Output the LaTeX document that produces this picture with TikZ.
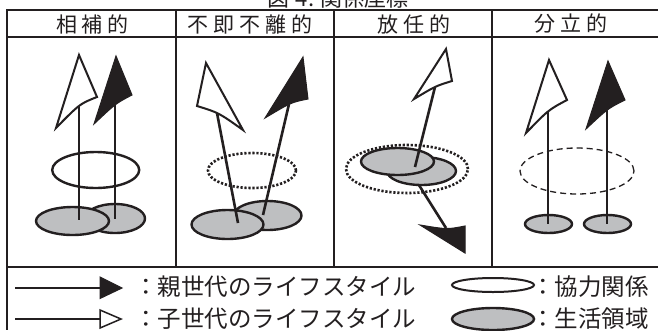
\documentclass[tikz,border=0pt]{standalone}
\usepackage{fontspec}
\newfontfamily\jp{Noto Sans CJK JP}
\definecolor{ink}{RGB}{35,31,32}
\definecolor{lgray}{RGB}{190,191,193}
\begin{document}
\begin{tikzpicture}[x=1pt,y=-1pt,
  frameline/.style={draw=ink,line width=1.5pt},
  shaft/.style={draw=ink,line width=2.6pt},
  whitehead/.style={draw=ink,fill=white,line width=2pt,line join=miter},
  blackhead/.style={draw=ink,fill=ink,line width=1pt,line join=miter},
  lifezone/.style={draw=ink,fill=lgray,line width=2.4pt},
  coop/.style={draw=ink,line width=2.4pt},
  coopdot/.style={draw=ink,line width=2.6pt,dash pattern=on 2.2pt off 1.8pt},
  coopdash/.style={draw=ink,line width=1.3pt,dash pattern=on 6pt off 4pt},
  ttl/.style={font=\jp\fontsize{22pt}{22pt}\selectfont,text=ink,inner sep=0pt,anchor=base},
  hdr/.style={font=\jp\fontsize{21}{21}\selectfont,text=ink,inner sep=0pt},
  lgd/.style={font=\jp\fontsize{23.5}{23.5}\selectfont,text=ink,inner sep=0pt,anchor=west},
]
\useasboundingbox (0,0) rectangle (658,330);
\fill[white] (0,0) rectangle (658,330);

% title (clipped at top, as in the reference)
\node[ttl] (title) at (338,6) {図\kern6pt 4.\kern6pt 関係座標};

% frame
\draw[ink,line width=1.3pt] (7,10) -- (658,10);
\draw[ink,line width=2pt] (7,37) -- (658,37);
\draw[ink,line width=2pt] (7,267) -- (658,267);
\draw[frameline] (7,9.4) -- (7,330);
\draw[frameline] (176,10) -- (176,267);
\draw[frameline] (334,10) -- (334,267);
\draw[frameline] (492,10) -- (492,267);

% headers
\node[hdr] (h1) at (92.5,24) {相\kern5pt 補\kern5pt 的};
\node[hdr] (h2) at (250,24) {不\kern5pt 即\kern5pt 不\kern5pt 離\kern5pt 的};
\node[hdr] (h3) at (414,24) {放\kern5pt 任\kern5pt 的};
\node[hdr] (h4) at (570.5,24) {分\kern5pt 立\kern5pt 的};

% panel 1
\path[lifezone] (115,218.5) ellipse [x radius=30pt,y radius=14.5pt];
\path[lifezone] (72.5,221) ellipse [x radius=36.5pt,y radius=14pt];
\path[coop] (95.7,170) ellipse [x radius=43.5pt,y radius=18pt];
\draw[shaft] (79,104) -- (79,220);
\draw[shaft] (115,103) -- (115,219);
\path[whitehead] (79,55) -- (97,97) .. controls (79.8,103.8) .. (56,128) -- cycle;
\path[blackhead] (116,56) -- (132,95) .. controls (115.7,103.5) .. (94,124) -- cycle;

% panel 2
\path[lifezone] (267.5,215.5) ellipse [x radius=34pt,y radius=14.5pt];
\path[lifezone] (227.5,224.5) ellipse [x radius=36pt,y radius=14.5pt];
\path[coopdot] (252,170.5) ellipse [x radius=44pt,y radius=17.5pt];
\draw[shaft] (217,113) -- (238,223);
\draw[shaft] (289,104) -- (263,215);
\path[whitehead] (206,63) -- (243,130) .. controls (218.7,112.7) .. (197,106) -- cycle;
\path[blackhead] (303,57) -- (308,99) .. controls (291.1,102.4) .. (265,118) -- cycle;

% panel 3
\draw[shaft] (412,174) -- (446,228);
\path[lifezone] (421.5,171) ellipse [x radius=34.5pt,y radius=14pt];
\path[lifezone] (397.5,161.5) ellipse [x radius=36.5pt,y radius=13.5pt];
\path[coopdot] (407,169) ellipse [x radius=61pt,y radius=24pt];
\draw[shaft] (435,87) -- (415,167);
\path[whitehead] (446,49) -- (452,81) .. controls (435.7,86) .. (414,99) -- cycle;
\path[blackhead] (465,253) -- (465,226) .. controls (447.2,229.5) .. (420,225) -- cycle;

% panel 4
\path[lifezone] (548.5,224) ellipse [x radius=23.5pt,y radius=9pt];
\path[lifezone] (607.5,224) ellipse [x radius=23.5pt,y radius=9pt];
\path[coopdash] (577,171) ellipse [x radius=57pt,y radius=23pt];
\draw[shaft] (548,110) -- (548,224);
\draw[shaft] (607,110) -- (607,224);
\path[whitehead] (549,60) -- (567,100) .. controls (548.4,109.9) .. (526,133) -- cycle;
\path[blackhead] (608,61) -- (625,100) .. controls (607.9,108.5) .. (586,129) -- cycle;

% legend
\draw[ink,line width=2.7pt] (15,288) -- (101,288);
\path[draw=ink,fill=ink,line width=1pt,line join=miter] (100,277) -- (122,288) -- (100,298.5) -- cycle;
\draw[ink,line width=1.6pt] (15,319) -- (100,319);
\path[draw=ink,fill=white,line width=1.5pt,line join=miter] (100,310) -- (121,319) -- (100,328) -- cycle;
\node[lgd] (l1) at (134,287) {：親世代のライフスタイル};
\node[lgd] (l2) at (134,319) {：子世代のライフスタイル};
\path[draw=ink,line width=2pt] (493,285) ellipse [x radius=41pt,y radius=7pt];
\path[lifezone] (493,319) ellipse [x radius=41pt,y radius=11pt];
\node[lgd] (l3) at (531,287) {：協力関係};
\node[lgd] (l4) at (531,319) {：生活領域};
\end{tikzpicture}
\end{document}
